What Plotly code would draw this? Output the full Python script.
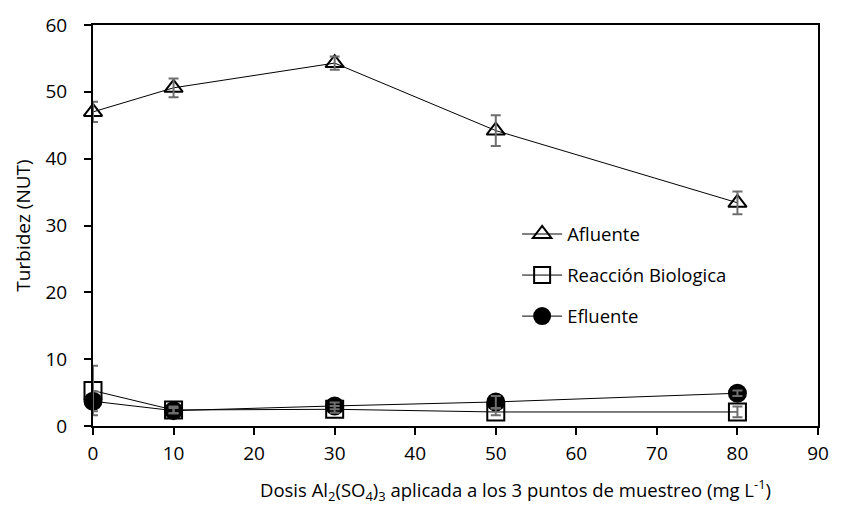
import plotly.graph_objects as go

dosis = [0, 10, 30, 50, 80]
afluente = [47.0, 50.6, 54.3, 44.2, 33.4]
afluente_err = [1.5, 1.4, 1.0, 2.3, 1.7]
reaccion = [5.3, 2.4, 2.5, 2.1, 2.1]
reaccion_err = [3.7, 0.5, 0.5, 0.5, 0.8]
efluente = [3.7, 2.3, 3.0, 3.6, 4.9]
efluente_err = [1.5, 0.4, 0.5, 0.9, 0.4]

ERR_COLOR = "#6e6e6e"
FONT = "Open Sans"

fig = go.Figure()

def add(name, y, symbol, size, fill, group):
    fig.add_trace(go.Scatter(
        x=dosis, y=y, name=name, mode="lines+markers",
        legendgroup=group,
        line=dict(color="black", width=1),
        marker=dict(symbol=symbol, size=size, color=fill,
                    line=dict(color="black", width=2)),
        cliponaxis=False,
    ))

def add_err(y, err, group):
    fig.add_trace(go.Scatter(
        x=dosis, y=y, mode="markers", showlegend=False, legendgroup=group,
        marker=dict(size=0.1, color="rgba(0,0,0,0)"),
        error_y=dict(type="data", array=err, visible=True,
                     color=ERR_COLOR, thickness=2, width=5),
        hoverinfo="skip", cliponaxis=False,
    ))

add("Afluente", afluente, "triangle-up", 16, "rgba(255,255,255,0)", "a")
add("Reacción Biologica", reaccion, "square", 17, "rgba(255,255,255,0)", "b")
add("Efluente", efluente, "circle", 17, "black", "c")
add_err(afluente, afluente_err, "a")
add_err(reaccion, reaccion_err, "b")
add_err(efluente, efluente_err, "c")

fig.update_layout(
    width=841, height=512,
    margin=dict(l=93, r=15, t=25, b=86),
    paper_bgcolor="white", plot_bgcolor="white",
    font=dict(family=FONT, size=19, color="black"),
    showlegend=True,
    legend=dict(x=0.585, y=0.525, xanchor="left", yanchor="top",
                bgcolor="rgba(0,0,0,0)", font=dict(size=18.5, family=FONT),
                tracegroupgap=14, itemwidth=40),
    xaxis=dict(range=[0, 90], dtick=10, showgrid=False, zeroline=False,
               showline=True, linecolor="black", linewidth=2, mirror=True,
               ticks="outside", ticklen=7, tickwidth=2, tickcolor="black",
               tickfont=dict(size=19), ticklabelstandoff=2),
    yaxis=dict(range=[0, 60], dtick=10, showgrid=False, zeroline=False,
               showline=True, linecolor="black", linewidth=2, mirror=True,
               ticks="outside", ticklen=7, tickwidth=2, tickcolor="black",
               tickfont=dict(size=19), ticklabelstandoff=13,
               title=dict(text="Turbidez (NUT)", font=dict(size=19), standoff=10)),
    annotations=[dict(
        text="Dosis Al<sub>2</sub>(SO<sub>4</sub>)<sub>3</sub> aplicada a los 3 puntos de muestreo (mg L<sup>-1</sup>)",
        xref="paper", yref="paper", x=0.5825, y=-0.16,
        xanchor="center", yanchor="middle", showarrow=False,
        font=dict(size=18.5, family=FONT, color="black"))],
)

fig.write_html("out.html")
